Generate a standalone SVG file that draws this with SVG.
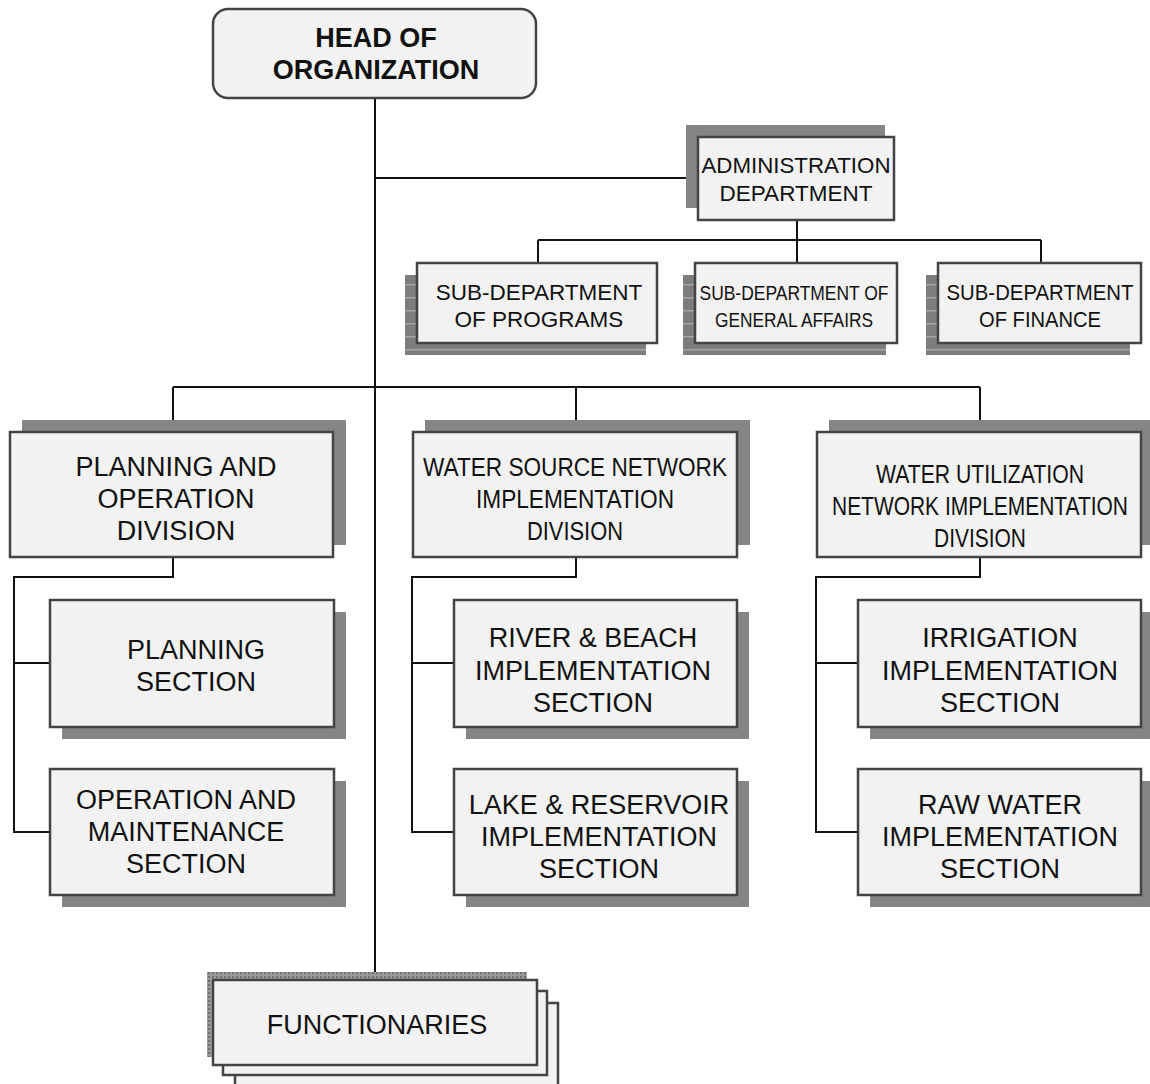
<svg xmlns="http://www.w3.org/2000/svg" width="1150" height="1084" viewBox="0 0 1150 1084">
<defs>
<style>
.box{fill:#f2f2f2;stroke:#444;stroke-width:2.5}
.shadow{fill:#858585}
.stripe{fill:url(#stripes)}
.t{font-family:"Liberation Sans",Arial,sans-serif;font-size:27px;fill:#111;text-anchor:middle}
.s{font-size:22.5px}
.n{font-size:25px}
.b{font-weight:bold}
.c{fill:none;stroke:#111;stroke-width:2}
</style>
<pattern id="stripes" width="10" height="13" patternUnits="userSpaceOnUse">
<rect width="10" height="13" fill="#7d7d7d"/>
<rect y="11" width="10" height="1.5" fill="#a5a5a5"/>
</pattern>
<pattern id="dots" width="4" height="4" patternUnits="userSpaceOnUse">
<rect width="4" height="4" fill="#9a9a9a"/>
<rect width="2" height="2" fill="#6e6e6e"/>
</pattern>
</defs>
<rect width="1150" height="1084" fill="#fff"/>
<g id="connectors">
<path class="c" d="M375 98 V980"/>
<path class="c" d="M375 178 H698"/>
<path class="c" d="M797 220 V240 M538 240 H1041 M538 240 V263 M797 240 V263 M1041 240 V263"/>
<path class="c" d="M173 387 H980 M173 387 V432 M576 387 V432 M980 387 V432"/>
<path class="c" d="M173 557 V577 H14 V832 H50 M14 663 H50"/>
<path class="c" d="M576 557 V577 H412 V832 H454 M412 663 H454"/>
<path class="c" d="M980 557 V577 H816 V832 H858 M816 663 H858"/>
</g>
<g id="head">
<rect class="box" x="213" y="9" width="323" height="89" rx="15"/>
<text class="t b" x="376" y="47">HEAD OF</text>
<text class="t b" x="376" y="79">ORGANIZATION</text>
</g>
<g id="admin">
<rect class="shadow" x="686" y="125" width="199" height="83"/>
<rect class="box" x="698" y="137" width="196" height="83"/>
<text class="t s" x="796" y="173" textLength="189" lengthAdjust="spacingAndGlyphs">ADMINISTRATION</text>
<text class="t s" x="796" y="201">DEPARTMENT</text>
</g>
<g id="sub-programs">
<rect class="stripe" x="405" y="275" width="241" height="80"/>
<rect class="box" x="417" y="263" width="240" height="80"/>
<text class="t s" x="539" y="300">SUB-DEPARTMENT</text>
<text class="t s" x="539" y="327">OF PROGRAMS</text>
</g>
<g id="sub-general">
<rect class="stripe" x="683" y="275" width="203" height="80"/>
<rect class="box" x="695" y="263" width="202" height="80"/>
<text class="t" style="font-size:21px" x="794" y="300" textLength="189" lengthAdjust="spacingAndGlyphs">SUB-DEPARTMENT OF</text>
<text class="t" style="font-size:21px" x="794" y="327" textLength="158" lengthAdjust="spacingAndGlyphs">GENERAL AFFAIRS</text>
</g>
<g id="sub-finance">
<rect class="stripe" x="926" y="275" width="204" height="80"/>
<rect class="box" x="938" y="263" width="203" height="80"/>
<text class="t s" x="1040" y="300" textLength="187" lengthAdjust="spacingAndGlyphs">SUB-DEPARTMENT</text>
<text class="t s" x="1040" y="327" textLength="122" lengthAdjust="spacingAndGlyphs">OF FINANCE</text>
</g>
<g id="planning-operation">
<rect class="shadow" x="22" y="420" width="324" height="125"/>
<rect class="box" x="10" y="432" width="323" height="125"/>
<text class="t" x="176" y="476">PLANNING AND</text>
<text class="t" x="176" y="508">OPERATION</text>
<text class="t" x="176" y="540">DIVISION</text>
</g>
<g id="water-source">
<rect class="shadow" x="425" y="420" width="325" height="125"/>
<rect class="box" x="413" y="432" width="324" height="125"/>
<text class="t n" x="575" y="476" textLength="304" lengthAdjust="spacingAndGlyphs">WATER SOURCE NETWORK</text>
<text class="t n" x="575" y="508" textLength="198" lengthAdjust="spacingAndGlyphs">IMPLEMENTATION</text>
<text class="t n" x="575" y="540" textLength="96" lengthAdjust="spacingAndGlyphs">DIVISION</text>
</g>
<g id="water-utilization">
<rect class="shadow" x="829" y="420" width="321" height="125"/>
<rect class="box" x="817" y="432" width="324" height="125"/>
<text class="t n" x="980" y="483" textLength="208" lengthAdjust="spacingAndGlyphs">WATER UTILIZATION</text>
<text class="t n" x="980" y="515" textLength="296" lengthAdjust="spacingAndGlyphs">NETWORK IMPLEMENTATION</text>
<text class="t n" x="980" y="547" textLength="92" lengthAdjust="spacingAndGlyphs">DIVISION</text>
</g>
<g id="planning-section">
<rect class="shadow" x="62" y="612" width="284" height="127"/>
<rect class="box" x="50" y="600" width="284" height="127"/>
<text class="t" x="196" y="659">PLANNING</text>
<text class="t" x="196" y="691">SECTION</text>
</g>
<g id="operation-maintenance">
<rect class="shadow" x="62" y="781" width="284" height="126"/>
<rect class="box" x="50" y="769" width="284" height="126"/>
<text class="t" x="186" y="809">OPERATION AND</text>
<text class="t" x="186" y="841">MAINTENANCE</text>
<text class="t" x="186" y="873">SECTION</text>
</g>
<g id="river-beach">
<rect class="shadow" x="466" y="612" width="283" height="127"/>
<rect class="box" x="454" y="600" width="283" height="127"/>
<text class="t" x="593" y="647">RIVER &amp; BEACH</text>
<text class="t" x="593" y="680">IMPLEMENTATION</text>
<text class="t" x="593" y="712">SECTION</text>
</g>
<g id="lake-reservoir">
<rect class="shadow" x="466" y="781" width="283" height="126"/>
<rect class="box" x="454" y="769" width="283" height="126"/>
<text class="t" x="599" y="814">LAKE &amp; RESERVOIR</text>
<text class="t" x="599" y="846">IMPLEMENTATION</text>
<text class="t" x="599" y="878">SECTION</text>
</g>
<g id="irrigation">
<rect class="shadow" x="870" y="612" width="280" height="127"/>
<rect class="box" x="858" y="600" width="283" height="127"/>
<text class="t" x="1000" y="647">IRRIGATION</text>
<text class="t" x="1000" y="680">IMPLEMENTATION</text>
<text class="t" x="1000" y="712">SECTION</text>
</g>
<g id="raw-water">
<rect class="shadow" x="870" y="781" width="280" height="126"/>
<rect class="box" x="858" y="769" width="283" height="126"/>
<text class="t" x="1000" y="814">RAW WATER</text>
<text class="t" x="1000" y="846">IMPLEMENTATION</text>
<text class="t" x="1000" y="878">SECTION</text>
</g>
<g id="functionaries">
<rect class="box" x="235" y="1003" width="323" height="90"/>
<rect class="box" x="223" y="991" width="324" height="84"/>
<rect x="207" y="972" width="320" height="85" fill="url(#dots)"/>
<rect class="box" x="213" y="980" width="324" height="85"/>
<text class="t" x="377" y="1034">FUNCTIONARIES</text>
</g>
</svg>
